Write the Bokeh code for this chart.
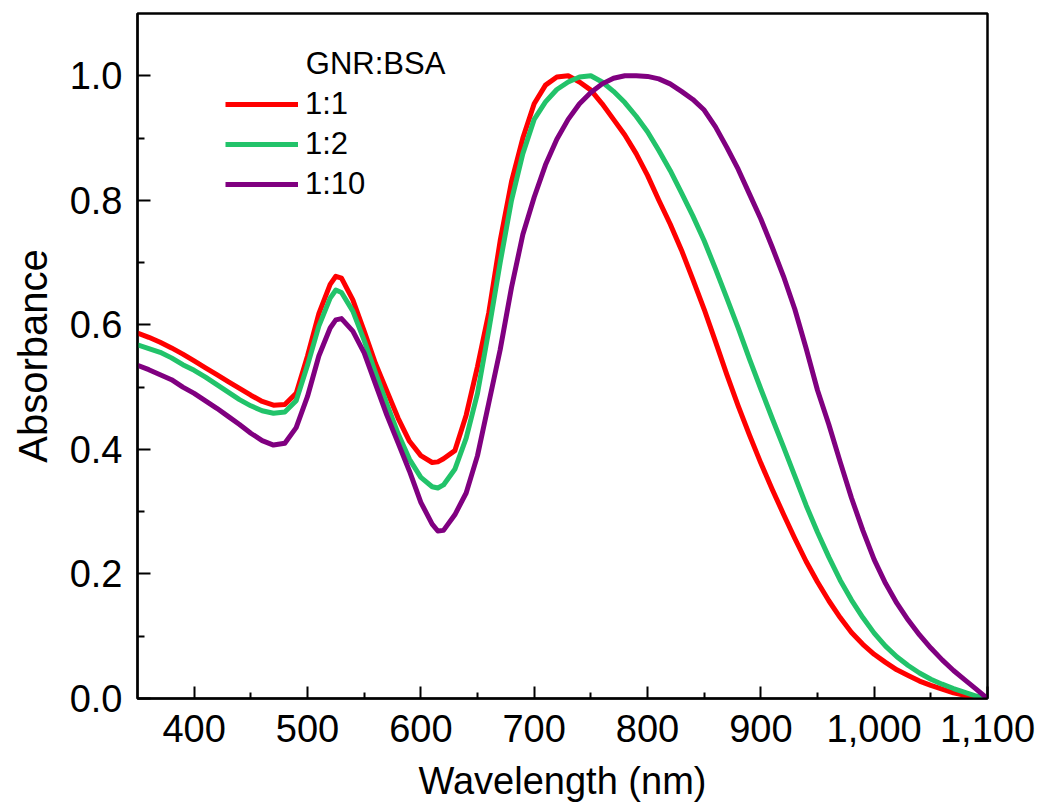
from bokeh.plotting import figure
from bokeh.models import (ColumnDataSource, FixedTicker, NumeralTickFormatter,
                          Legend, LegendItem, Label, Range1d)
from bokeh.embed import file_html
from bokeh.resources import INLINE

wavelength = [350, 360, 370, 380, 390, 400, 410, 420, 430, 440, 450, 460, 470, 480,
              490, 500, 510, 520, 525, 530, 540, 550, 560, 570, 580, 590, 600, 610,
              615, 620, 630, 640, 650, 660, 670, 680, 690, 700, 710, 720, 730, 740,
              750, 760, 770, 780, 790, 800, 810, 820, 830, 840, 850, 860, 870, 880,
              890, 900, 910, 920, 930, 940, 950, 960, 970, 980, 990, 1000, 1010,
              1020, 1030, 1040, 1050, 1060, 1070, 1080, 1090, 1100]

abs_1_1 = [0.587, 0.580, 0.572, 0.563, 0.553, 0.542, 0.531, 0.520, 0.509, 0.498,
           0.487, 0.477, 0.471, 0.472, 0.490, 0.550, 0.618, 0.665,
           0.678,
           0.675, 0.640, 0.590, 0.538, 0.494, 0.450, 0.413, 0.390, 0.379,
           0.380,
           0.385, 0.398, 0.455, 0.533, 0.620, 0.735, 0.830, 0.900, 0.955, 0.985,
           0.998, 1.000, 0.990, 0.977, 0.955, 0.930, 0.905, 0.875, 0.840, 0.800,
           0.762, 0.720, 0.673, 0.625, 0.573, 0.520, 0.470, 0.423, 0.378, 0.336,
           0.296, 0.257, 0.220, 0.187, 0.157, 0.130, 0.106, 0.087, 0.071, 0.058,
           0.046, 0.037, 0.028, 0.021, 0.015, 0.009, 0.005, 0.002, 0.000]

abs_1_2 = [0.568, 0.562, 0.556, 0.547, 0.536, 0.527, 0.516, 0.504, 0.492, 0.480,
           0.470, 0.462, 0.458, 0.460, 0.478, 0.535, 0.598, 0.643,
           0.656,
           0.652, 0.622, 0.575, 0.523, 0.473, 0.425, 0.384, 0.355, 0.340,
           0.338,
           0.343, 0.368, 0.418, 0.490, 0.592, 0.700, 0.800, 0.875, 0.930, 0.958,
           0.978, 0.990, 0.998, 1.000, 0.990, 0.975, 0.957, 0.935, 0.910, 0.880,
           0.848, 0.812, 0.775, 0.735, 0.690, 0.643, 0.595, 0.545, 0.497, 0.450,
           0.404, 0.357, 0.310, 0.267, 0.227, 0.190, 0.158, 0.130, 0.105, 0.084,
           0.067, 0.053, 0.041, 0.031, 0.023, 0.016, 0.010, 0.004, 0.000]

abs_1_10 = [0.535, 0.528, 0.520, 0.512, 0.500, 0.490, 0.478, 0.466, 0.453, 0.440,
            0.426, 0.414, 0.407, 0.410, 0.435, 0.485, 0.550, 0.595,
            0.608,
            0.610, 0.590, 0.555, 0.505, 0.455, 0.410, 0.365, 0.315, 0.280,
            0.269,
            0.270, 0.295, 0.330, 0.390, 0.475, 0.560, 0.660, 0.745, 0.805, 0.857,
            0.898, 0.930, 0.955, 0.973, 0.987, 0.996, 1.000, 1.000, 0.999, 0.995,
            0.987, 0.975, 0.962, 0.945, 0.918, 0.885, 0.850, 0.810, 0.770, 0.725,
            0.678, 0.625, 0.562, 0.495, 0.440, 0.380, 0.322, 0.270, 0.223, 0.185,
            0.153, 0.126, 0.102, 0.081, 0.062, 0.045, 0.030, 0.015, 0.000]

series_labels = ["1:1", "1:2", "1:10"]
series_colors = ["#ff0000", "#22c36a", "#800080"]
legend_title = "GNR:BSA"

x_major = [400, 500, 600, 700, 800, 900, 1000, 1100]
x_minor = [450, 550, 650, 750, 850, 950, 1050]
y_major = [0.0, 0.2, 0.4, 0.6, 0.8, 1.0]
y_minor = [0.1, 0.3, 0.5, 0.7, 0.9]

FONT = "Liberation Sans"

src = ColumnDataSource(dict(x=wavelength, a=abs_1_1, b=abs_1_2, c=abs_1_10))

p = figure(frame_width=850, frame_height=685, output_backend="svg",
           toolbar_location=None, x_range=Range1d(350, 1100),
           y_range=Range1d(0, 1.1),
           min_border_left=137, min_border_right=48, min_border_top=13,
           min_border_bottom=100)
p.background_fill_color = "white"
p.border_fill_color = "white"
p.grid.visible = False
p.outline_line_color = "black"
p.outline_line_width = 2.5
p.outline_line_alpha = 1

renderers = []
for col, color in zip(["a", "b", "c"], series_colors):
    r = p.line("x", col, source=src, line_color=color, line_width=5,
               line_join="round")
    renderers.append(r)

for ax in (p.xaxis[0], p.yaxis[0]):
    ax.axis_line_width = 2
    ax.axis_line_color = "black"
    ax.major_tick_line_width = 2
    ax.minor_tick_line_width = 2
    ax.major_tick_out = 0
    ax.minor_tick_out = 0
    ax.major_label_text_font = FONT
    ax.major_label_text_font_size = "38px"
    ax.major_label_text_color = "black"
    ax.axis_label_text_font = FONT
    ax.axis_label_text_font_style = "normal"
    ax.axis_label_text_color = "black"

xa = p.xaxis[0]
xa.ticker = FixedTicker(ticks=x_major, minor_ticks=x_minor)
xa.formatter = NumeralTickFormatter(format="0,0")
xa.major_tick_in = 12
xa.minor_tick_in = 6
xa.major_label_standoff = 16
xa.axis_label = "Wavelength (nm)"
xa.axis_label_text_font_size = "38px"
xa.axis_label_standoff = 15

ya = p.yaxis[0]
ya.ticker = FixedTicker(ticks=y_major, minor_ticks=y_minor)
ya.formatter = NumeralTickFormatter(format="0.0")
ya.major_tick_in = 13
ya.minor_tick_in = 7
ya.major_label_standoff = 15
ya.axis_label = "Absorbance"
ya.axis_label_text_font_size = "40px"
ya.axis_label_standoff = 12

items = [LegendItem(label=lab, renderers=[r]) for lab, r in zip(series_labels, renderers)]
legend = Legend(items=items, location=(88, 494), padding=0, margin=0, spacing=0,
                glyph_width=73, glyph_height=40, label_height=40, label_standoff=7,
                label_text_font=FONT, label_text_font_size="31px",
                label_text_color="black", label_text_baseline="middle",
                border_line_color=None, background_fill_alpha=0)
p.add_layout(legend)

p.add_layout(Label(x=498.5, y=1.019, text=legend_title, text_font=FONT,
                   text_font_size="31px", text_color="black",
                   text_baseline="middle", text_align="left"))

open("out.html", "w").write(file_html(p, INLINE))
